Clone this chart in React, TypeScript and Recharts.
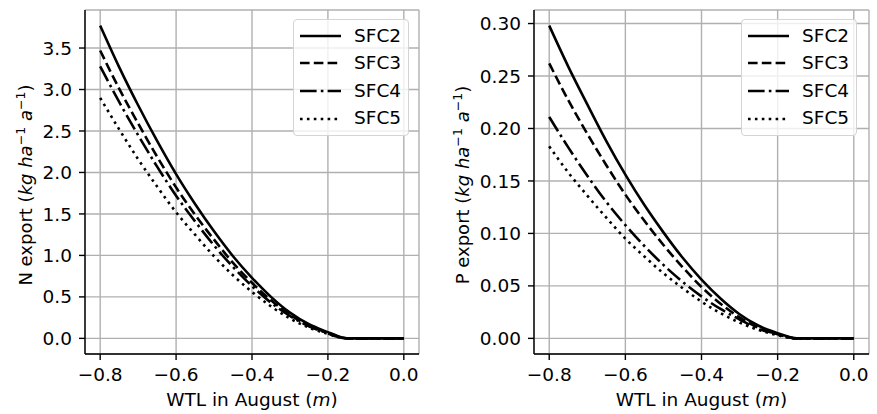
import React from 'react';
import { LineChart, Line, XAxis, YAxis, CartesianGrid, Legend } from 'recharts';

// water table level in August (m), shared by both panels
const WTL = [-0.8, -0.75, -0.7, -0.65, -0.6, -0.55, -0.5, -0.45, -0.4, -0.35, -0.3, -0.25, -0.2, -0.175, -0.15, -0.1, -0.05, 0];

// N export (kg ha-1 a-1)
const N_SFC2 = [3.77, 3.27, 2.81, 2.38, 1.98, 1.62, 1.29, 0.99, 0.73, 0.5, 0.31, 0.17, 0.075, 0.03, 0, 0, 0, 0];
const N_SFC3 = [3.47, 3.01, 2.59, 2.19, 1.82, 1.49, 1.19, 0.91, 0.67, 0.46, 0.285, 0.155, 0.065, 0.025, 0, 0, 0, 0];
const N_SFC4 = [3.28, 2.85, 2.45, 2.07, 1.72, 1.41, 1.12, 0.86, 0.63, 0.43, 0.27, 0.145, 0.06, 0.02, 0, 0, 0, 0];
const N_SFC5 = [2.9, 2.52, 2.16, 1.83, 1.52, 1.25, 0.99, 0.76, 0.56, 0.385, 0.24, 0.13, 0.055, 0.018, 0, 0, 0, 0];

// P export (kg ha-1 a-1)
const P_SFC2 = [0.298, 0.259, 0.223, 0.188, 0.156, 0.127, 0.101, 0.077, 0.056, 0.038, 0.023, 0.012, 0.005, 0.002, 0, 0, 0, 0];
const P_SFC3 = [0.262, 0.227, 0.195, 0.165, 0.137, 0.112, 0.089, 0.068, 0.049, 0.033, 0.02, 0.01, 0.004, 0.0015, 0, 0, 0, 0];
const P_SFC4 = [0.211, 0.182, 0.155, 0.13, 0.108, 0.088, 0.07, 0.054, 0.04, 0.028, 0.018, 0.009, 0.004, 0.001, 0, 0, 0, 0];
const P_SFC5 = [0.183, 0.158, 0.136, 0.115, 0.095, 0.078, 0.062, 0.048, 0.035, 0.024, 0.015, 0.008, 0.003, 0.001, 0, 0, 0, 0];

const SERIES_NAMES = ['SFC2', 'SFC3', 'SFC4', 'SFC5'];
const X_TICKS = [-0.8, -0.6, -0.4, -0.2, 0];
const N_TICKS = [0, 0.5, 1, 1.5, 2, 2.5, 3, 3.5];
const P_TICKS = [0, 0.05, 0.1, 0.15, 0.2, 0.25, 0.3];

// matplotlib-ish line styles at lw 1.5
const DASHES: Record<string, string | undefined> = {
  SFC2: undefined,
  SFC3: '9.6 4.2',
  SFC4: '16.6 4.2 2.6 4.2',
  SFC5: '2.6 4.3',
};

const FONT = '"DejaVu Sans", sans-serif';
const FS = 18.5;
const LW = 2.6;

function buildRows(values: number[][]) {
  return WTL.map((x, i) => {
    const row: Record<string, number> = { x };
    SERIES_NAMES.forEach((name, s) => {
      row[name] = values[s][i];
    });
    return row;
  });
}

const nData = buildRows([N_SFC2, N_SFC3, N_SFC4, N_SFC5]);
const pData = buildRows([P_SFC2, P_SFC3, P_SFC4, P_SFC5]);

function fmtX(v: number) {
  if (v === 0) return '0.0';
  return (v < 0 ? '\u2212' : '') + Math.abs(v).toFixed(1);
}

function LegendBox() {
  return (
    <div
      style={{
        border: '1px solid #d4d4d4',
        borderRadius: 4,
        background: 'rgba(255,255,255,0.8)',
        padding: '2px 6px 3px 6px',
        fontFamily: FONT,
        fontSize: FS,
        color: '#000',
        boxSizing: 'border-box',
        width: 116,
      }}
    >
      {SERIES_NAMES.map((name) => (
        <div key={name} style={{ display: 'flex', alignItems: 'center', height: 27.6 }}>
          <svg width={41} height={10} style={{ marginRight: 13, flex: 'none' }}>
            <line x1={0} y1={5} x2={41} y2={5} stroke="#000" strokeWidth={LW} strokeDasharray={DASHES[name]} />
          </svg>
          <span style={{ lineHeight: 1 }}>{name}</span>
        </div>
      ))}
    </div>
  );
}

function YTitle({ viewBox, prefix }: any) {
  const cx = (viewBox?.x ?? 0) + 31.5;
  const cy = (viewBox?.y ?? 0) + (viewBox?.height ?? 0) / 2 + 3;
  return (
    <text
      x={cx}
      y={cy}
      transform={`rotate(-90, ${cx}, ${cy})`}
      textAnchor="middle"
      fontFamily={FONT}
      fontSize={18}
      fill="#000"
    >
      {prefix} export (<tspan fontStyle="italic">kg ha</tspan>
      <tspan dy={-7} fontSize={12.6}>{'\u22121'}</tspan>
      <tspan dy={7} fontStyle="italic"> a</tspan>
      <tspan dy={-7} fontSize={12.6}>{'\u22121'}</tspan>
      <tspan dy={7}>)</tspan>
    </text>
  );
}

function XTitle({ viewBox }: any) {
  const cx = (viewBox?.x ?? 0) + (viewBox?.width ?? 0) / 2;
  const cy = (viewBox?.y ?? 0) + 52;
  return (
    <text x={cx} y={cy} textAnchor="middle" fontFamily={FONT} fontSize={FS} fill="#000">
      WTL in August (<tspan fontStyle="italic">m</tspan>)
    </text>
  );
}

type PanelProps = {
  data: Record<string, number>[];
  width: number;
  axisWidth: number;
  rightGap: number;
  yDomain: [number, number];
  yTicks: number[];
  yDigits: number;
  prefix: string;
  legendLeft: number;
};

function Panel({ data, width, axisWidth, rightGap, yDomain, yTicks, yDigits, prefix, legendLeft }: PanelProps) {
  const tickStyle = { fill: '#000', fontSize: FS, fontFamily: FONT };
  const spine = { stroke: '#000', strokeWidth: 1.4 };
  return (
    <LineChart width={width} height={414} data={data} margin={{ top: 10, right: rightGap, bottom: 0, left: 0 }}>
      <CartesianGrid stroke="#b0b0b0" strokeWidth={1.4} />
      <XAxis
        dataKey="x"
        type="number"
        domain={[-0.84, 0.04]}
        ticks={X_TICKS}
        tickFormatter={fmtX}
        interval={0}
        height={60}
        tick={tickStyle}
        tickSize={6}
        tickMargin={8}
        tickLine={spine}
        axisLine={spine}
        label={{ content: (p: any) => <XTitle {...p} /> }}
      />
      <XAxis
        xAxisId="top"
        orientation="top"
        dataKey="x"
        type="number"
        domain={[-0.84, 0.04]}
        height={0}
        tick={false}
        tickLine={false}
        axisLine={spine}
      />
      <YAxis
        type="number"
        domain={yDomain}
        ticks={yTicks}
        interval={0}
        tickFormatter={(v: number) => v.toFixed(yDigits)}
        width={axisWidth}
        tick={tickStyle}
        tickSize={6}
        tickMargin={7}
        tickLine={spine}
        axisLine={spine}
        label={{ content: (p: any) => <YTitle {...p} prefix={prefix} /> }}
      />
      <YAxis
        yAxisId="right"
        orientation="right"
        type="number"
        domain={yDomain}
        width={0}
        tick={false}
        tickLine={false}
        axisLine={spine}
      />
      {SERIES_NAMES.map((name) => (
        <Line
          key={name}
          dataKey={name}
          type="monotone"
          stroke="#000"
          strokeWidth={LW}
          strokeDasharray={DASHES[name]}
          strokeLinecap="butt"
          dot={false}
          activeDot={false}
          isAnimationActive={false}
        />
      ))}
      <Legend
        layout="vertical"
        align="center"
        verticalAlign="middle"
        wrapperStyle={{ top: 19, left: legendLeft, width: 116 }}
        content={() => <LegendBox />}
      />
    </LineChart>
  );
}

export default function App() {
  return (
    <div style={{ position: 'absolute', left: 0, top: 0, width: 877, height: 414, background: '#fff', display: 'flex' }}>
      <Panel
        data={nData}
        width={437}
        axisWidth={85}
        rightGap={18}
        yDomain={[-0.1885, 3.9585]}
        yTicks={N_TICKS}
        yDigits={1}
        prefix="N"
        legendLeft={293}
      />
      <Panel
        data={pData}
        width={440}
        axisWidth={97}
        rightGap={8}
        yDomain={[-0.0149, 0.3129]}
        yTicks={P_TICKS}
        yDigits={2}
        prefix="P"
        legendLeft={304}
      />
    </div>
  );
}
